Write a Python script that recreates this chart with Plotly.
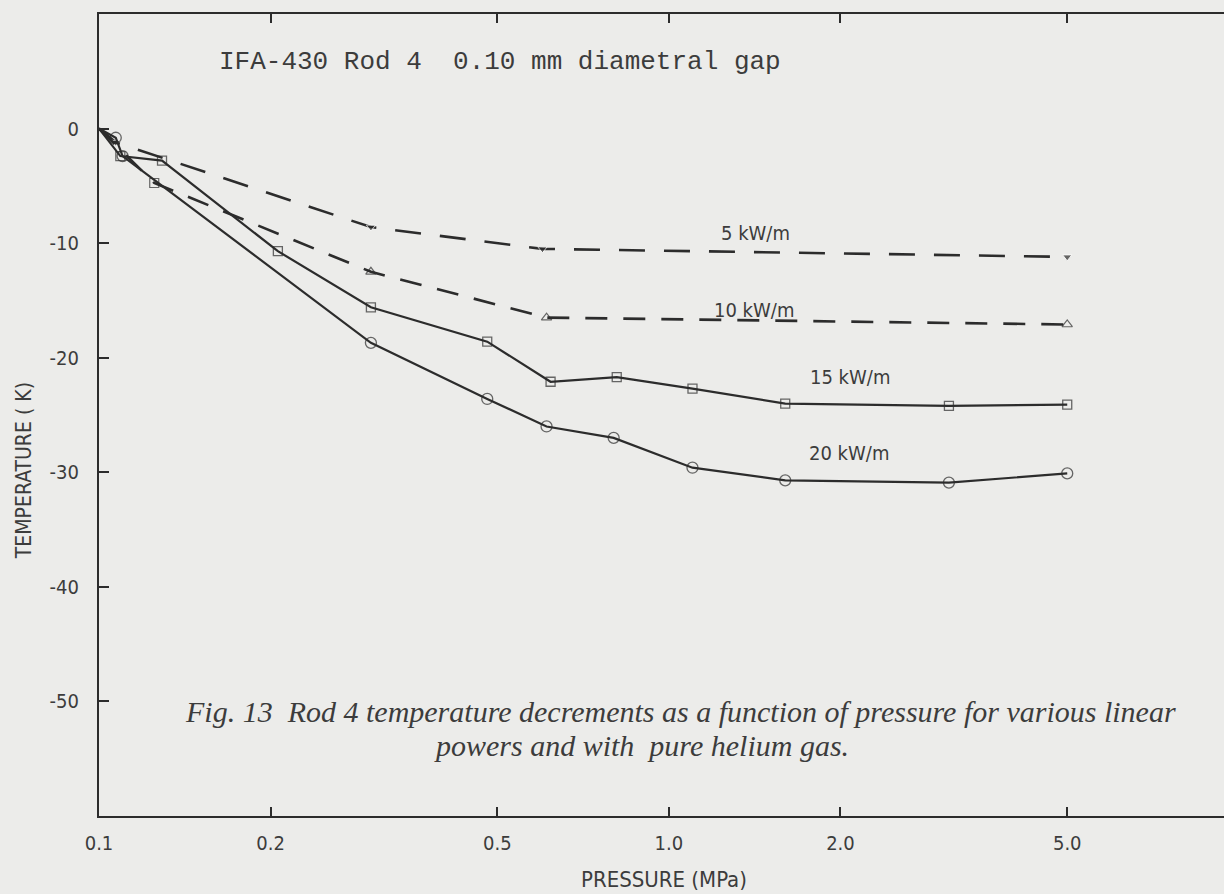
import math
import plotly.graph_objects as go

# ---- data ----
p5_x = [0.1, 0.107, 0.3, 0.6, 5.0]
p5_y = [0, -1.2, -8.6, -10.5, -11.2]

p10_x = [0.1, 0.125, 0.3, 0.61, 5.0]
p10_y = [0, -4.75, -12.5, -16.5, -17.1]

p15_x = [0.1, 0.109, 0.129, 0.206, 0.3, 0.48, 0.62, 0.81, 1.1, 1.6, 3.1, 5.0]
p15_y = [0, -2.4, -2.8, -10.7, -15.6, -18.6, -22.1, -21.7, -22.7, -24.0, -24.2, -24.1]

p20_x = [0.1, 0.107, 0.11, 0.3, 0.48, 0.61, 0.8, 1.1, 1.6, 3.1, 5.0]
p20_y = [0, -0.8, -2.4, -18.7, -23.6, -26.0, -27.0, -29.6, -30.7, -30.9, -30.1]

x_ticks = [0.1, 0.2, 0.5, 1.0, 2.0, 5.0]
x_ticktext = ["0.1", "0.2", "0.5", "1.0", "2.0", "5.0"]
y_ticks = [0, -10, -20, -30, -40, -50]
y_ticktext = ["0", "-10", "-20", "-30", "-40", "-50"]

series_labels = ["5 kW/m", "10 kW/m", "15 kW/m", "20 kW/m"]
label_x = [1.42, 1.41, 2.08, 2.07]
label_y = [-9.1, -15.8, -21.7, -28.3]

title_text = "IFA-430 Rod 4&nbsp;&nbsp;0.10 mm diametral gap"
caption_1 = "Fig. 13&nbsp;&nbsp;Rod 4 temperature decrements as a function of pressure for various linear"
caption_2 = "powers and with&nbsp;&nbsp;pure helium gas."
x_title = "PRESSURE (MPa)"
y_title = "TEMPERATURE ( K)"

INK = "#2c2c2c"
TXT = "#3c3c3c"
BG = "#ececea"
COND = "Liberation Sans Narrow, DejaVu Sans Condensed, Roboto Condensed, Arial Narrow, sans-serif"
SERIF = "Liberation Serif, DejaVu Serif, serif"

fig = go.Figure()


def sizes(n, s):
    return [0] + [s] * (n - 1)


fig.add_trace(go.Scatter(
    x=p5_x, y=p5_y, mode="lines+markers",
    line=dict(color=INK, width=2.6, dash="26px,19px"),
    marker=dict(symbol="triangle-down", size=sizes(len(p5_x), 8), color=INK),
    showlegend=False))

fig.add_trace(go.Scatter(
    x=p10_x, y=p10_y, mode="lines+markers",
    line=dict(color=INK, width=2.6, dash="22px,16px"),
    marker=dict(symbol=["circle", "square-open", "triangle-up-open", "triangle-up-open", "triangle-up-open"],
                size=sizes(len(p10_x), 9), color=INK, line=dict(width=1.2, color=INK)),
    showlegend=False))

fig.add_trace(go.Scatter(
    x=p15_x, y=p15_y, mode="lines+markers",
    line=dict(color=INK, width=2.2),
    marker=dict(symbol="square-open", size=sizes(len(p15_x), 9), color=INK, line=dict(width=1.3, color=INK)),
    showlegend=False))

fig.add_trace(go.Scatter(
    x=p20_x, y=p20_y, mode="lines+markers",
    line=dict(color=INK, width=2.2),
    marker=dict(symbol="circle-open", size=sizes(len(p20_x), 11), color=INK, line=dict(width=1.3, color=INK)),
    showlegend=False))

for t, lx, ly in zip(series_labels, label_x, label_y):
    fig.add_annotation(x=math.log10(lx), y=ly, xref="x", yref="y", text=t, showarrow=False,
                       font=dict(family=COND, size=20, color=TXT))

fig.add_annotation(x=0.105, y=0.940, xref="paper", yref="paper", xanchor="left", yanchor="middle",
                   text=title_text, showarrow=False,
                   font=dict(family="Liberation Mono, DejaVu Sans Mono, monospace", size=26, color=TXT))

fig.add_annotation(x=0.517, y=0.1297, xref="paper", yref="paper", xanchor="center", yanchor="middle",
                   text="<i>" + caption_1 + "</i>", showarrow=False,
                   font=dict(family=SERIF, size=30, color=TXT))
fig.add_annotation(x=0.482, y=0.0873, xref="paper", yref="paper", xanchor="center", yanchor="middle",
                   text="<i>" + caption_2 + "</i>", showarrow=False,
                   font=dict(family=SERIF, size=30, color=TXT))

fig.add_annotation(x=0.502, y=-0.0798, xref="paper", yref="paper", xanchor="center", yanchor="middle",
                   text=x_title, showarrow=False,
                   font=dict(family=COND, size=22, color=TXT))
fig.add_annotation(x=-0.0668, y=0.431, xref="paper", yref="paper", xanchor="center", yanchor="middle",
                   text=y_title, textangle=-90, showarrow=False,
                   font=dict(family=COND, size=21, color=TXT))

fig.update_layout(
    width=1224, height=894,
    margin=dict(l=99, r=0, t=14, b=78),
    paper_bgcolor=BG, plot_bgcolor=BG,
    showlegend=False,
)

fig.update_xaxes(type="log", range=[-1, math.log10(9.42)], tickvals=x_ticks, ticktext=x_ticktext,
                 ticks="inside", ticklen=9, tickwidth=1.5, tickcolor=INK,
                 showline=True, linecolor=INK, linewidth=2, mirror="ticks",
                 showgrid=False, zeroline=False,
                 tickfont=dict(family=COND, size=20, color=TXT), ticklabelstandoff=8)
fig.update_yaxes(range=[-60, 10], tickvals=y_ticks, ticktext=y_ticktext,
                 ticks="inside", ticklen=10, tickwidth=1.5, tickcolor=INK,
                 showline=True, linecolor=INK, linewidth=2, mirror=False,
                 showgrid=False, zeroline=False,
                 tickfont=dict(family=COND, size=20, color=TXT), ticklabelstandoff=14)

fig.write_html("out.html")
